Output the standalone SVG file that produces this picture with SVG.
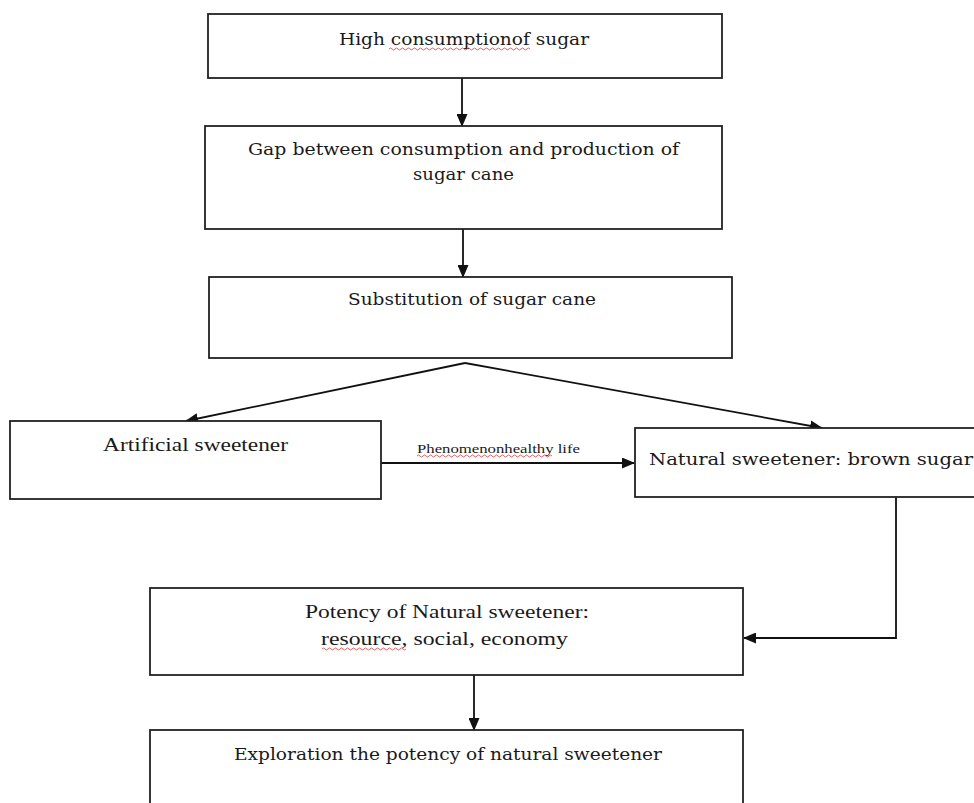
<svg xmlns="http://www.w3.org/2000/svg" width="974" height="803" viewBox="0 0 974 803">
<style>
.box{fill:#fff;stroke:#222;stroke-width:1.8}
.con{fill:none;stroke:#111;stroke-width:1.8}
.t{font-family:"DejaVu Serif","Liberation Serif",serif;font-size:17px;fill:#1a1a1a}
.n{font-family:"Liberation Serif",serif;font-size:18px;fill:#1a1a1a}
.s{font-family:"Liberation Serif",serif;font-size:13px;fill:#1a1a1a}
.sq{fill:none;stroke:#d33;stroke-width:0.8}
</style>
<defs>
<marker id="ah" markerUnits="userSpaceOnUse" markerWidth="13" markerHeight="11" refX="12" refY="5.5" orient="auto">
<path d="M0,0 L13,5.5 L0,11 Z" fill="#111"/>
</marker>
</defs>
<rect width="974" height="803" fill="#fff"/>
<g id="connectors">
<line class="con" x1="462" y1="78" x2="462" y2="126" marker-end="url(#ah)"/>
<line class="con" x1="463" y1="229" x2="463" y2="277" marker-end="url(#ah)"/>
<line class="con" x1="465" y1="363" x2="186" y2="421" marker-end="url(#ah)"/>
<line class="con" x1="465" y1="363" x2="822" y2="428" marker-end="url(#ah)"/>
<line class="con" x1="381" y1="463" x2="634" y2="463" marker-end="url(#ah)"/>
<polyline class="con" points="896,497 896,638 744,638" marker-end="url(#ah)"/>
<line class="con" x1="474" y1="675" x2="474" y2="730" marker-end="url(#ah)"/>
<text class="s" x="417" y="453" textLength="163" lengthAdjust="spacingAndGlyphs">Phenomenonhealthy life</text>
<path class="sq" d="M417,456 q1.5,-2 3,0 t3,0 t3,0 t3,0 t3,0 t3,0 t3,0 t3,0 t3,0 t3,0 t3,0 t3,0 t3,0 t3,0 t3,0 t3,0 t3,0 t3,0 t3,0 t3,0 t3,0 t3,0 t3,0 t3,0 t3,0 t3,0 t3,0 t3,0 t3,0 t3,0 t3,0 t3,0 t3,0 t3,0 t3,0 t3,0 t3,0 t3,0 t3,0 t3,0 t3,0 t3,0 t3,0 t3,0 t3,0"/>
</g>
<g id="n1">
<rect class="box" x="208" y="14" width="514" height="64"/>
<text class="t" x="339" y="45" textLength="250" lengthAdjust="spacingAndGlyphs">High consumptionof sugar</text>
<path class="sq" d="M389,49 q1.5,-2 3,0 t3,0 t3,0 t3,0 t3,0 t3,0 t3,0 t3,0 t3,0 t3,0 t3,0 t3,0 t3,0 t3,0 t3,0 t3,0 t3,0 t3,0 t3,0 t3,0 t3,0 t3,0 t3,0 t3,0 t3,0 t3,0 t3,0 t3,0 t3,0 t3,0 t3,0 t3,0 t3,0 t3,0 t3,0 t3,0 t3,0 t3,0 t3,0 t3,0 t3,0 t3,0 t3,0 t3,0 t3,0 t3,0 t3,0"/>
</g>
<g id="n2">
<rect class="box" x="205" y="126" width="517" height="103"/>
<text class="t" x="248" y="155" textLength="431" lengthAdjust="spacingAndGlyphs">Gap between  consumption and production of</text>
<text class="t" x="413" y="180" textLength="101" lengthAdjust="spacingAndGlyphs">sugar cane</text>
</g>
<g id="n3">
<rect class="box" x="209" y="277" width="523" height="81"/>
<text class="t" x="348" y="305" textLength="248" lengthAdjust="spacingAndGlyphs">Substitution of sugar cane</text>
</g>
<g id="n4">
<rect class="box" x="10" y="421" width="371" height="78"/>
<text class="n" x="103" y="451" textLength="185" lengthAdjust="spacingAndGlyphs">Artificial sweetener</text>
</g>
<g id="n5">
<rect class="box" x="635" y="428" width="345" height="69"/>
<text class="t" x="649" y="465" textLength="324" lengthAdjust="spacingAndGlyphs">Natural sweetener:  brown sugar</text>
</g>
<g id="n6">
<rect class="box" x="150" y="588" width="593" height="87"/>
<text class="n" x="305" y="618" textLength="284" lengthAdjust="spacingAndGlyphs">Potency of Natural sweetener:</text>
<text class="n" x="321" y="645" textLength="247" lengthAdjust="spacingAndGlyphs">resource, social, economy</text>
<path class="sq" d="M322,649 q1.5,-2 3,0 t3,0 t3,0 t3,0 t3,0 t3,0 t3,0 t3,0 t3,0 t3,0 t3,0 t3,0 t3,0 t3,0 t3,0 t3,0 t3,0 t3,0 t3,0 t3,0 t3,0 t3,0 t3,0 t3,0 t3,0 t3,0 t3,0 t3,0"/>
</g>
<g id="n7">
<rect class="box" x="150" y="730" width="593" height="90"/>
<text class="t" x="234" y="760" textLength="428" lengthAdjust="spacingAndGlyphs">Exploration the potency of natural sweetener</text>
</g>
</svg>
